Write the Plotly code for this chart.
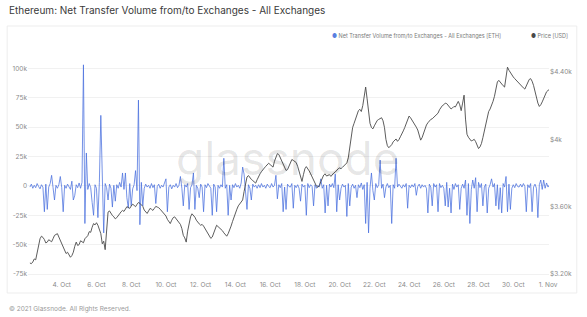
import pandas as pd
import plotly.graph_objects as go

# ---------------- data ----------------
# ETH price (USD), 2-hourly from 2021-10-02 04:00
price_start = "2021-10-02 04:00"
price_usd = [
    3266, 3262, 3272, 3290, 3285, 3330, 3375, 3410, 3425, 3418,
    3405, 3385, 3390, 3404, 3398, 3392, 3410, 3430, 3435, 3440,
    3420, 3398, 3380, 3365, 3340, 3322, 3330, 3318, 3300, 3310,
    3330, 3365, 3390, 3370, 3375, 3398, 3392, 3386, 3410, 3420,
    3428, 3452, 3448, 3478, 3500, 3492, 3505, 3490, 3470, 3440,
    3380, 3395, 3345, 3490, 3568, 3575, 3560, 3548, 3540, 3528,
    3535, 3550, 3558, 3570, 3578, 3572, 3588, 3600, 3596, 3590,
    3604, 3615, 3608, 3600, 3614, 3625, 3620, 3612, 3602, 3580,
    3566, 3560, 3575, 3590, 3585, 3578, 3590, 3602, 3598, 3594,
    3585, 3575, 3570, 3560, 3545, 3525, 3508, 3500, 3520, 3535,
    3540, 3528, 3520, 3505, 3495, 3470, 3430, 3415, 3390, 3455,
    3510, 3540, 3558, 3550, 3538, 3520, 3505, 3498, 3490, 3495,
    3485, 3470, 3455, 3440, 3425, 3412, 3420, 3445, 3472, 3490,
    3482, 3475, 3468, 3458, 3445, 3432, 3425, 3440, 3460, 3485,
    3512, 3540, 3560, 3585, 3605, 3618, 3625, 3640, 3690, 3745,
    3776, 3785, 3770, 3762, 3755, 3748, 3740, 3760, 3782, 3795,
    3808, 3822, 3830, 3840, 3848, 3858, 3850, 3842, 3835, 3870,
    3895, 3915, 3910, 3890, 3870, 3848, 3833, 3815, 3820, 3842,
    3860, 3880, 3875, 3868, 3862, 3840, 3812, 3780, 3750, 3790,
    3825, 3838, 3828, 3812, 3795, 3778, 3760, 3738, 3722, 3715,
    3726, 3748, 3770, 3788, 3795, 3782, 3786, 3790, 3780, 3792,
    3800, 3806, 3818, 3825, 3830, 3826, 3834, 3842, 3848, 3860,
    3890, 3950, 4030, 4070, 4095, 4125, 4150, 4170, 4178, 4165,
    4200, 4260, 4310, 4240, 4150, 4095, 4070, 4062, 4080, 4098,
    4112, 4118, 4122, 4128, 4110, 4070, 4000, 3962, 3950, 3958,
    3968, 3985, 3995, 4002, 3988, 3998, 4015, 4030, 4050, 4070,
    4090, 4118, 4138, 4128, 4115, 4102, 4090, 4072, 4055, 4030,
    3995, 4010, 4035, 4062, 4085, 4098, 4110, 4118, 4122, 4130,
    4138, 4145, 4155, 4175, 4190, 4200, 4205, 4215, 4212, 4200,
    4192, 4180, 4186, 4195, 4192, 4208, 4225, 4205, 4170, 4215,
    4262, 4120, 4030, 4012, 4000, 3990, 3994, 4000, 3986, 3968,
    3945, 3955, 3975, 4010, 4050, 4100, 4140, 4165, 4180, 4200,
    4225, 4255, 4290, 4340, 4350, 4338, 4325, 4318, 4310, 4380,
    4428, 4410, 4395, 4382, 4370, 4360, 4350, 4342, 4330, 4322,
    4315, 4305, 4298, 4318, 4340, 4355, 4360, 4345, 4320, 4280,
    4245, 4215, 4195, 4205, 4222, 4245, 4268, 4282, 4290, 4296,
]

# Net transfer volume from/to exchanges (thousand ETH), 2-hourly from 2021-10-02 04:00
flow_start = "2021-10-02 04:00"
net_flow_k = [
    -1, 1.5, -2, 0.5, -1.5, 2, -0.5, -2.5, 1, -1, -22, 1.5, -20, -1, 2, 9, -1.5, -12, 0.5, -2,
    1, 8, -1.5, -22, 0.5, -2, 1.5, -1, -3, 4, -12, -8, 1, -1.5, 2.5, -2, 3, 103, -32, 28,
    -3, 2, -1.5, -14, -25, 1, -2, -27, 3, 60, -4, -40, 2, -1.5, -12, 1.5, -2, -18, 0.5, -13,
    1, -2, 3, -1, 11, -3, 11, -10, -19, 2, -17, -2.5, 1, 13, -4, 73, -33, 3, -17, -2,
    1.5, -1, 0.5, -2, 2, -1.5, 1, -15, -0.5, 1.5, -2, 0.5, -1, 2, 6, -22, -1, 1, -2.5, 0.5,
    -1, 2, -1.5, 0.5, 8, -2, -17, 1, -1, 2, -20, -1.5, 1, 11, -20, 0.5, -2, -10, 1.5, -1,
    -22, 1, -1.5, 2, -0.5, -2, -25, 1.5, -1, -22, 0.5, -2, 1, -1, 23.5, -2, 1, -25, 0.5, -12,
    1, -1.5, 2, -1, 0.5, -2, 2.5, 16, 10, -3, -20, 1, -2, -12, 1.5, -1, 0.5, -2, 1, -1.5,
    2, -1, 0.5, -2, 1.5, -0.5, -1.5, 2, -1, 0.5, 9, -11, 1, -1.5, 2, -22, -1, -20, 1.5, -0.5,
    -1, 2, -19, 0.5, -1.5, 1, -2, -13, 1.5, -1, 0.5, -25, 2, -1.5, 1, -0.5, -17, 1, -2, 0.5,
    -1, 6, -2, 1, -23, 0.5, -17, 1.5, -1, 2, -1.5, 10, -22, 1, -12, -2, 1.5, -1, 0.5, -26,
    2, -17, -1, 1.5, -2, 0.5, -10, 1, -1.5, 2.5, -3, 1, -32, 3, -40, -2, 11, -4, -12, 2,
    -1.5, 1, 22, -2, 1.5, -10, -1, 2, -1.5, 0.5, -32, 1, -2, 23.5, -1, 1.5, -0.5, -2, 1, -1,
    2, -19, 0.5, -1.5, 1, -1, 2, -8, -0.5, 1.5, -2, 1, -1, 0.5, -2, -23, 1.5, -1, -17, 2,
    -1, 1, -22, 2, -1.5, 0.5, -2, -17, 3, -18, -2, -23, 1.5, -3, 2, -1, 1, -20, -2, 1.5,
    -2, 5, -25, 2, -32, -3, 5, -2, 7, -22, 3, -1.5, 2, -17, -1, 1.5, -23, -2, 1, 6,
    -1, 2, -17, 1, -20, -1.5, -23, 2, -1, 8, -22, 1.5, -20, -2, 1, -1.5, 2, -0.5, -1, 1.5,
    -1, 2, -0.5, -22, 1, -1.5, 2, -22, -1, 1.5, -2, -27, 1, 5, -3, 5, -2, 2.5, -1, 1,
]

x_tick_dates = ["2021-10-04", "2021-10-06", "2021-10-08", "2021-10-10", "2021-10-12",
                "2021-10-14", "2021-10-16", "2021-10-18", "2021-10-20", "2021-10-22",
                "2021-10-24", "2021-10-26", "2021-10-28", "2021-10-30", "2021-11-01"]
x_tick_labels = ["4. Oct", "6. Oct", "8. Oct", "10. Oct", "12. Oct", "14. Oct", "16. Oct",
                 "18. Oct", "20. Oct", "22. Oct", "24. Oct", "26. Oct", "28. Oct",
                 "30. Oct", "1. Nov"]
left_tick_vals = [-75000, -50000, -25000, 0, 25000, 50000, 75000, 100000]
left_tick_labels = ["-75k", "-50k", "-25k", "0", "25k", "50k", "75k", "100k"]
right_tick_vals = [3200, 3600, 4000, 4400]
right_tick_labels = ["$3.20k", "$3.60k", "$4k", "$4.40k"]

title_text = "Ethereum: Net Transfer Volume from/to Exchanges - All Exchanges"
legend_flow = "Net Transfer Volume from/to Exchanges - All Exchanges [ETH]"
legend_price = "Price [USD]"
footer_text = "© 2021 Glassnode. All Rights Reserved."

# ---------------- build ----------------
price_x = pd.date_range(price_start, periods=len(price_usd), freq="2h")
flow_x = pd.date_range(flow_start, periods=len(net_flow_k), freq="2h")
flow_eth = [v * 1000 for v in net_flow_k]

BLUE = "rgba(74,112,222,0.85)"
BLUE_DOT = "#5a7fe0"
GREY = "#4a4a4a"
FONT = "Inter"

W, H = 587, 317
L, R, T, B = 24, 38, 58, 38
pw, ph = W - L - R, H - T - B


def px(xp):
    return (xp - L) / pw


def py(yp):
    return (H - B - yp) / ph


fig = go.Figure()
fig.add_trace(go.Scatter(x=flow_x, y=flow_eth, mode="lines",
                         line=dict(color=BLUE, width=0.9), name=legend_flow,
                         yaxis="y"))
fig.add_trace(go.Scatter(x=price_x, y=price_usd, mode="lines",
                         line=dict(color=GREY, width=0.9), name=legend_price,
                         yaxis="y2"))

fig.update_layout(
    width=W, height=H,
    margin=dict(l=L, r=R, t=T, b=B),
    paper_bgcolor="white", plot_bgcolor="white",
    showlegend=False,
    font=dict(family=FONT, color="#8a8a8a", size=7),
    xaxis=dict(
        type="date",
        range=["2021-10-02 01:22", "2021-11-01 01:22"],
        tickvals=x_tick_dates, ticktext=x_tick_labels,
        showgrid=False, zeroline=False, showline=False, ticks="",
        tickfont=dict(size=6.5, color="#8a8a8a"),
    ),
    yaxis=dict(
        range=[-79200, 108800],
        tickvals=left_tick_vals, ticktext=left_tick_labels,
        showgrid=True, gridcolor="#f1f1f1", gridwidth=1,
        zeroline=False, showline=False, ticks="",
        tickfont=dict(size=6.5, color="#8a8a8a"),
    ),
    yaxis2=dict(
        overlaying="y", side="right",
        range=[3171, 4482.5],
        tickvals=right_tick_vals, ticktext=right_tick_labels,
        showgrid=False, zeroline=False, showline=False, ticks="",
        tickfont=dict(size=6.5, color="#8a8a8a"),
    ),
)

# container frame
fig.add_shape(type="rect", xref="paper", yref="paper",
              x0=px(3), x1=px(577), y0=py(293), y1=py(26),
              line=dict(color="#ededed", width=1), fillcolor="rgba(0,0,0,0)",
              layer="below")

ann = []
ann.append(dict(text=title_text, x=px(3), y=py(10), xanchor="left", yanchor="middle",
                font=dict(size=10, color="#3a3a3a", family=FONT)))
ann.append(dict(text=f"<span style='color:{BLUE_DOT}'>●</span> {legend_flow}",
                x=px(328), y=py(36), xanchor="left", yanchor="middle",
                font=dict(size=5.5, color="#7a7a7a", family=FONT)))
ann.append(dict(text=f"<span style='color:{GREY}'>●</span> {legend_price}",
                x=px(529), y=py(36), xanchor="left", yanchor="middle",
                font=dict(size=5.5, color="#7a7a7a", family=FONT)))
ann.append(dict(text=footer_text, x=px(3), y=py(309), xanchor="left", yanchor="middle",
                font=dict(size=6.5, color="#9a9a9a", family=FONT)))
ann.append(dict(text="glassnode", x=px(286), y=py(158), xanchor="center", yanchor="middle",
                font=dict(size=46, color="rgba(0,0,0,0.10)", family=FONT)))
for a in ann:
    a.update(xref="paper", yref="paper", showarrow=False)
fig.update_layout(annotations=ann)

fig.write_html("out.html")
